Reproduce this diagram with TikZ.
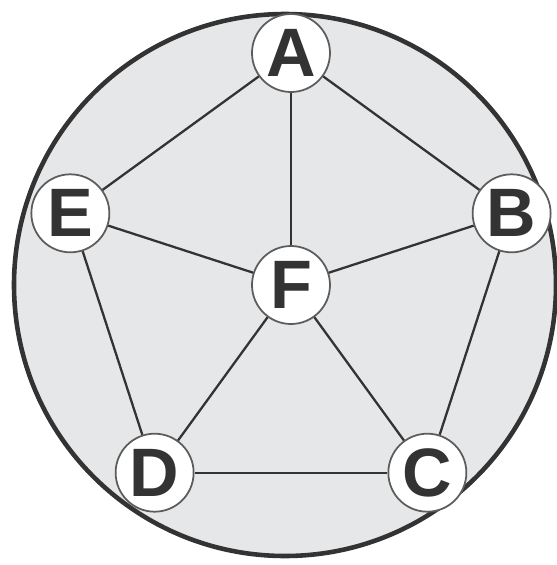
\documentclass[tikz,border=0pt]{standalone}
\usepackage{fontspec}
\setmainfont{Liberation Sans}
\usetikzlibrary{positioning}
\definecolor{discgray}{HTML}{E6E7E9}
\definecolor{inkdark}{HTML}{333333}
\tikzset{
  disc/.style     = {draw=inkdark, line width=1.3pt, fill=discgray},
  vertex/.style   = {circle, draw=inkdark!80, line width=0.5pt, fill=white,
                     minimum size=0.78cm, inner sep=0pt,
                     font=\fontsize{19.5}{19.5}\selectfont\bfseries, text=inkdark},
  link/.style     = {draw=inkdark, line width=0.65pt},
}

\begin{document}
\begin{tikzpicture}
\useasboundingbox (-2.91,-2.80) rectangle (2.65,2.85);

% =============== OUTER DISC ===============
\draw[disc] (-0.06,0) circle (2.71);

% =============== VERTICES ===============
\node (F) [vertex] at (0,0) {F};
\node (A) [vertex] at (90:2.32)   {A};
\node (B) [vertex] at (18:2.32)   {B};
\node (C) [vertex] at (-54:2.32)  {C};
\node (D) [vertex] at (-126:2.32) {D};
\node (E) [vertex] at (162:2.32)  {E};

% =============== EDGES ===============
\foreach \u/\v in {A/B, B/C, C/D, D/E, E/A, F/A, F/B, F/C, F/D, F/E}
  \draw[link] (\u) -- (\v);

\end{tikzpicture}
\end{document}
